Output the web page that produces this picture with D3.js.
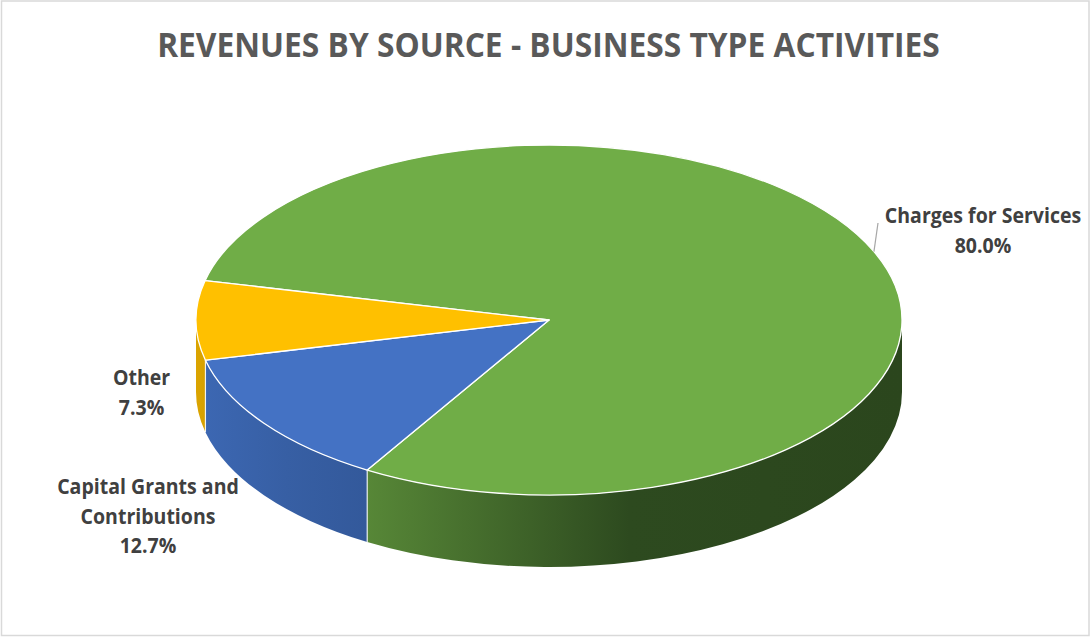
<!DOCTYPE html>
<html>
<head>
<meta charset="utf-8">
<script src="https://cdn.jsdelivr.net/npm/d3@7"></script>
<style>
  html, body { margin: 0; padding: 0; background: #ffffff; }
  svg { display: block; }
</style>
</head>
<body>
<svg id="chart" width="1091" height="638"></svg>
<script>
// Revenue sources for business-type activities (percent of total)
const categories = ["Charges for Services", "Capital Grants and Contributions", "Other"];
const values = [80.0, 12.7, 7.3];
const valueLabels = ["80.0%", "12.7%", "7.3%"];
const labelLines = [["Charges for Services"], ["Capital Grants and", "Contributions"], ["Other"]];
const topColors = ["#70AD47", "#4472C4", "#FFC000"];
const sideColors = [["#578737", "#2d4a1f", "#2b461d"], ["#3c67b2", "#375fa4", "#33599b"], ["#dba400", "#d9a300", "#d6a000"]];
const title = "REVENUES BY SOURCE - BUSINESS TYPE ACTIVITIES";

const svg = d3.select("#chart");
const W = 1091, H = 638;
const FONT = "'Open Sans', 'DejaVu Sans', sans-serif";

// Text drawn horizontally condensed (Calibri-like set width) via a transform,
// so its on-screen box equals its drawn extent.
function condensedText(parent, x, y, str, size, color, sx) {
  return parent.append("text")
    .attr("transform", `translate(${x},${y}) scale(${sx},1)`)
    .attr("text-anchor", "middle")
    .attr("font-family", FONT).attr("font-weight", 700)
    .attr("font-size", size).attr("fill", color)
    .text(str);
}

// chart frame
svg.append("rect")
  .attr("x", 1.5).attr("y", 1).attr("width", W - 3.5).attr("height", H - 3.5)
  .attr("fill", "#ffffff").attr("stroke", "#d9d9d9").attr("stroke-width", 1.5);

// title
const titleEl = condensedText(svg, 548.5, 57, title, 33.5, "#595959", 1);
const titleLen = titleEl.node().getComputedTextLength();
titleEl.attr("transform", `translate(548.5,57) scale(${783 / titleLen},1)`);

// 3D pie geometry: tilted disc seen from above
const cx = 549, cy = 320, rx = 353, ry = 175, depth = 72;
const startAngle = 283 * Math.PI / 180;

const pie = d3.pie().sort(null).value(d => d)
  .startAngle(startAngle).endAngle(startAngle + 2 * Math.PI);
const arcs = pie(values);

const pt = (a, dy = 0) => [cx + rx * Math.sin(a), cy - ry * Math.cos(a) + dy];

const defs = svg.append("defs");

// side walls: only the front half (angles 90°..270°, mod 360) is visible
const sides = svg.append("g");
arcs.forEach((d, i) => {
  const g = defs.append("linearGradient")
    .attr("id", "side" + i).attr("gradientUnits", "objectBoundingBox")
    .attr("x1", 0).attr("x2", 1).attr("y1", 0).attr("y2", 0);
  const stops = i === 0 ? [0, 0.49, 1] : [0, 0.5, 1];
  sideColors[i].forEach((c, k) => g.append("stop").attr("offset", stops[k]).attr("stop-color", c));

  for (let k = 0; k < 2; k++) {
    const lo = Math.PI / 2 + k * 2 * Math.PI, hi = 3 * Math.PI / 2 + k * 2 * Math.PI;
    const a0 = Math.max(d.startAngle, lo), a1 = Math.min(d.endAngle, hi);
    if (a1 <= a0) continue;
    const p0 = pt(a0), p1 = pt(a1), q1 = pt(a1, depth), q0 = pt(a0, depth);
    const path = `M${p0}A${rx},${ry} 0 0 1 ${p1}L${q1}A${rx},${ry} 0 0 0 ${q0}Z`;
    sides.append("path").attr("d", path)
      .attr("fill", `url(#side${i})`)
      .attr("stroke", "none");
    // seam line where two slices meet on the wall
    if (a0 > lo + 1e-6) {
      sides.append("line")
        .attr("x1", p0[0]).attr("y1", p0[1]).attr("x2", q0[0]).attr("y2", q0[1])
        .attr("stroke", "#ffffff").attr("stroke-width", 1.2).attr("stroke-opacity", 0.85);
    }
  }
});

// top face of the pie
const arc = d3.arc().innerRadius(0).outerRadius(rx);
const topFace = svg.append("g")
  .attr("transform", `translate(${cx},${cy}) scale(1,${ry / rx})`);
topFace.selectAll("path")
  .data(arcs)
  .join("path")
  .attr("d", arc)
  .attr("fill", (d, i) => topColors[i])
  .attr("stroke", "#ffffff")
  .attr("stroke-width", 1.3)
  .attr("stroke-linejoin", "round")
  .attr("vector-effect", "non-scaling-stroke");

// data labels
const labelPos = [
  { x: 983, y: 223 },
  { x: 148, y: 494 },
  { x: 141.5, y: 385 }
];
const lineH = 29.5;
const labelSize = 21, squeeze = 0.93;
const labels = svg.append("g");
arcs.forEach((d, i) => {
  const lines = labelLines[i].concat([valueLabels[i]]);
  lines.forEach((s, k) => {
    condensedText(labels, labelPos[i].x, labelPos[i].y + k * lineH, s, labelSize, "#404040", squeeze);
  });
});

// leader line for the large slice
const mid0 = (arcs[0].startAngle + arcs[0].endAngle) / 2;
const lp = pt(mid0);
svg.append("line")
  .attr("x1", lp[0]).attr("y1", lp[1])
  .attr("x2", 878).attr("y2", 223)
  .attr("stroke", "#a6a6a6").attr("stroke-width", 1.2);
</script>
</body>
</html>
